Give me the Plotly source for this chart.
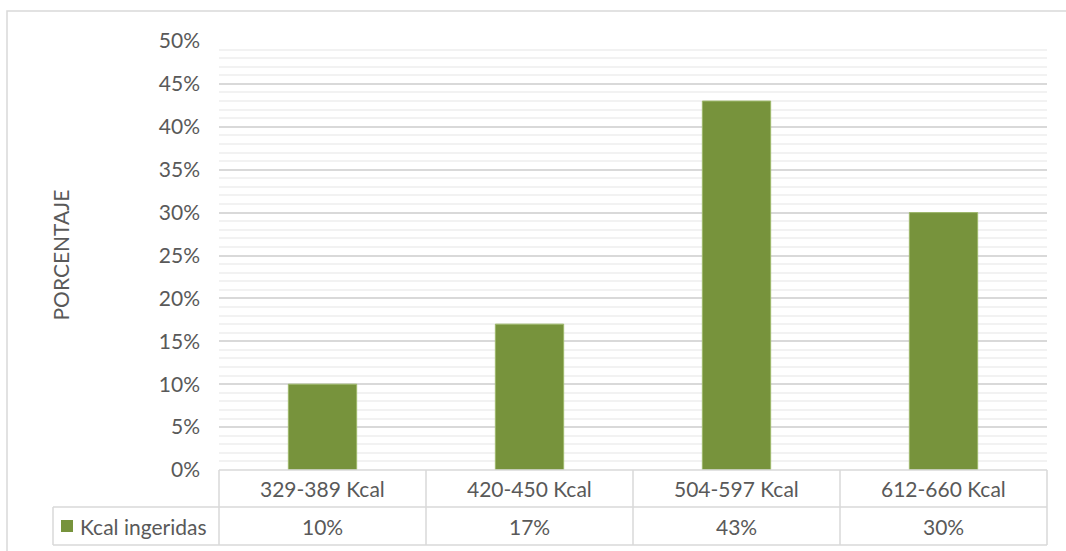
import plotly.graph_objects as go

# Data
categories = ["329-389 Kcal", "420-450 Kcal", "504-597 Kcal", "612-660 Kcal"]
values = [0.10, 0.17, 0.43, 0.30]
series_name = "Kcal ingeridas"
y_title = "PORCENTAJE"
y_ticks = [0, 0.05, 0.10, 0.15, 0.20, 0.25, 0.30, 0.35, 0.40, 0.45, 0.50]
y_tick_labels = ["0%", "5%", "10%", "15%", "20%", "25%", "30%", "35%", "40%", "45%", "50%"]

W, H = 1066, 551
L, R, T, B = 219, 19, 41, 81
PW, PH = W - L - R, H - T - B

BAR = "#77933C"
TEXT = "#595959"
LINE = "#D9D9D9"
FONT = "Lato, Carlito, Calibri, sans-serif"
FS = 21


def px(xpix):
    return (xpix - L) / PW


def py(ypix):
    return (H - B - ypix) / PH


fig = go.Figure()
fig.add_trace(go.Bar(
    x=categories, y=values, name=series_name,
    marker=dict(color=BAR, line=dict(color="#9DB86A", width=1)),
    width=0.33, showlegend=False,
))

n = len(categories)
col_w = 1.0 / n
shapes = []
line_style = dict(color=LINE, width=1.5)

# Chart area border
shapes.append(dict(type="rect", xref="paper", yref="paper",
                   x0=px(7), x1=px(1080), y0=py(560), y1=py(11),
                   line=dict(color=LINE, width=1.5), layer="below"))

# Data table grid
row1_top, row2_top, row2_bot = 470, 507, 545
for yy, x0 in [(row1_top, L), (row2_top, 53), (row2_bot, 53)]:
    shapes.append(dict(type="line", xref="paper", yref="paper",
                       x0=px(x0), x1=1, y0=py(yy), y1=py(yy), line=line_style))
for i in range(n + 1):
    shapes.append(dict(type="line", xref="paper", yref="paper",
                       x0=i * col_w, x1=i * col_w, y0=py(row2_bot), y1=py(row1_top),
                       line=line_style))
shapes.append(dict(type="line", xref="paper", yref="paper",
                   x0=px(53), x1=px(53), y0=py(row2_bot), y1=py(row2_top), line=line_style))
# Legend key
shapes.append(dict(type="rect", xref="paper", yref="paper",
                   x0=px(61), x1=px(73), y0=py(532), y1=py(520),
                   fillcolor=BAR, line=dict(width=0)))

cell_font = dict(size=FS, color=TEXT, family=FONT)
annotations = []
for cat, v in zip(categories, values):
    annotations.append(dict(x=cat, xref="x", y=py((row1_top + row2_top) / 2), yref="paper",
                            xanchor="center", yanchor="middle",
                            text=cat, showarrow=False, font=cell_font))
    annotations.append(dict(x=cat, xref="x", y=py((row2_top + row2_bot) / 2), yref="paper",
                            xanchor="center", yanchor="middle",
                            text=f"{round(v * 100)}%", showarrow=False, font=cell_font))
annotations.append(dict(x=px(78), xref="paper", xanchor="left",
                        y=py((row2_top + row2_bot) / 2), yref="paper", yanchor="middle",
                        text=series_name, showarrow=False, font=cell_font))
annotations.append(dict(x=px(60), xref="paper", xanchor="center",
                        y=0.5, yref="paper", yanchor="middle",
                        text=y_title, textangle=-90, showarrow=False, font=cell_font))

fig.update_layout(
    width=W, height=H,
    margin=dict(l=L, r=R, t=T, b=B),
    paper_bgcolor="white", plot_bgcolor="white",
    shapes=shapes, annotations=annotations,
    font=dict(family=FONT, color=TEXT, size=FS),
    xaxis=dict(showticklabels=False, showgrid=False, zeroline=False, showline=False,
               range=[-0.5, n - 0.5]),
    yaxis=dict(range=[0, 0.5], tickvals=y_ticks, ticktext=y_tick_labels,
               showgrid=True, gridcolor=LINE, gridwidth=1.5, zeroline=False,
               showline=False, ticks="", ticklabelstandoff=18,
               tickfont=cell_font,
               minor=dict(dtick=0.01, showgrid=True, gridcolor="#F2F2F2", gridwidth=1.5)),
)

fig.write_html("out.html")
